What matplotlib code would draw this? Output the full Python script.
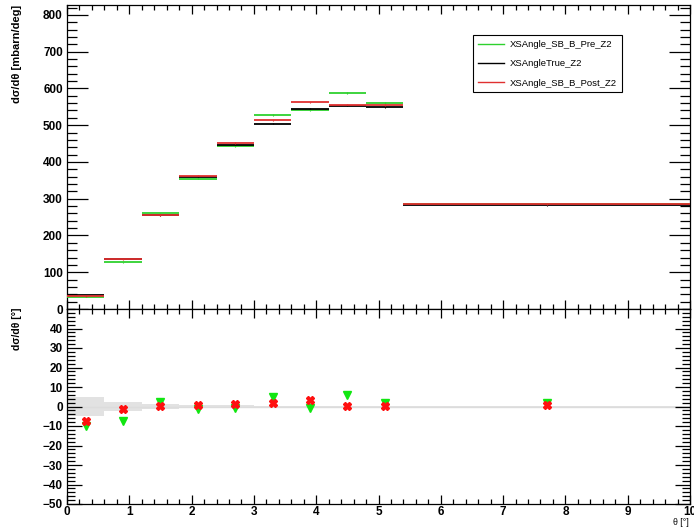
import numpy as np
import matplotlib
matplotlib.use("Agg")
import matplotlib.pyplot as plt
from matplotlib.ticker import MultipleLocator
from matplotlib.lines import Line2D

plt.rcParams['font.family'] = ['Liberation Sans', 'DejaVu Sans']

# Angular binning (deg)
bin_edges = [0.0, 0.6, 1.2, 1.8, 2.4, 3.0, 3.6, 4.2, 4.8, 5.4, 10.0]

# Differential cross sections (mbarn/deg)
xs_true = [37.0, 137.0, 255.0, 360.0, 447.0, 504.0, 545.0, 553.0, 550.0, 282.0]
xs_pre = [33.4, 126.5, 260.5, 355.0, 443.0, 528.0, 540.0, 587.0, 561.0, 287.0]
xs_post = [34.2, 135.0, 255.5, 363.0, 452.0, 513.0, 562.0, 556.0, 554.0, 284.5]
xs_err = [2.0, 3.0, 4.0, 5.0, 5.0, 5.0, 5.0, 5.0, 5.0, 2.0]

# Relative deviation from the true distribution (%)
pre_ratio = [-9.8, -7.5, 2.2, -1.4, -1.0, 4.8, -0.9, 6.1, 2.0, 1.9]
post_ratio = [-7.5, -1.5, 0.2, 0.9, 1.2, 1.7, 3.1, 0.5, 0.5, 0.9]
true_rel_err = [4.8, 2.4, 1.4, 1.0, 0.6, 0.45, 0.4, 0.35, 0.35, 0.3]

labels = ["XSAngle_SB_B_Pre_Z2", "XSAngleTrue_Z2", "XSAngle_SB_B_Post_Z2"]

GREEN_LINE = "#2ed12e"
GREEN_MARK = "#11e611"
RED_LINE = "#e03030"
RED_MARK = "#ff1010"
BLACK = "#000000"

edges = np.array(bin_edges)
lo, hi = edges[:-1], edges[1:]
centers = 0.5 * (lo + hi)

W, H = 694, 527
fig = plt.figure(figsize=(W / 100, H / 100), dpi=100)
ax1 = fig.add_axes([67 / W, 1 - 309 / H, 623 / W, 304 / H])
ax2 = fig.add_axes([67 / W, 1 - 504 / H, 623 / W, 195 / H])

# ---- upper pad: cross sections ----
for vals, col in ((xs_pre, GREEN_LINE), (xs_true, BLACK), (xs_post, RED_LINE)):
    v = np.array(vals)
    ax1.hlines(v, lo, hi, colors=col, lw=1.3, zorder=3)
    ax1.vlines(centers, v - np.array(xs_err) * 0.4, v + np.array(xs_err) * 0.4,
               colors=col, lw=0.8, zorder=3)

ax1.set_xlim(0, 10)
ax1.set_ylim(0, 827)
ax1.xaxis.set_major_locator(MultipleLocator(1))
ax1.xaxis.set_minor_locator(MultipleLocator(0.2))
ax1.yaxis.set_major_locator(MultipleLocator(100))
ax1.yaxis.set_minor_locator(MultipleLocator(20))
ax1.tick_params(which='both', direction='in', top=True, right=True,
                labelbottom=False, width=0.9)
ax1.tick_params(axis='y', which='major', length=15)
ax1.tick_params(axis='y', which='minor', length=7.5)
ax1.tick_params(axis='x', which='major', length=6.5)
ax1.tick_params(axis='x', which='minor', length=3.3)
ax1.tick_params(axis='y', pad=3)
for t in ax1.get_yticklabels():
    t.set_fontsize(8.5)
    t.set_fontweight('bold')

handles = [Line2D([], [], color=GREEN_LINE, lw=1.0),
           Line2D([], [], color=BLACK, lw=1.0),
           Line2D([], [], color=RED_LINE, lw=1.0)]
leg = ax1.legend(handles, labels, loc='upper left',
                 bbox_to_anchor=(0.6517, 0.901), fontsize=6.8,
                 frameon=True, fancybox=False, edgecolor='black',
                 framealpha=1, handlelength=2.75, handletextpad=0.65,
                 labelspacing=1.1, borderpad=0.5, borderaxespad=0)
leg.get_frame().set_linewidth(0.8)

# ---- lower pad: relative deviations ----
ax2.stairs(np.array(true_rel_err), edges, baseline=-np.array(true_rel_err),
           fill=True, color='#e2e2e2', zorder=1)
ax2.axhline(0, color='#dcdcdc', lw=1.0, zorder=1)
ax2.plot(centers, pre_ratio, 'v', color=GREEN_MARK, ms=6, mec=GREEN_MARK,
         zorder=4, ls='none')
ax2.plot(centers, post_ratio, 'X', color=RED_MARK, ms=6, mec=RED_MARK,
         zorder=5, ls='none')

ax2.set_xlim(0, 10)
ax2.set_ylim(-50, 50)
ax2.xaxis.set_major_locator(MultipleLocator(1))
ax2.xaxis.set_minor_locator(MultipleLocator(0.2))
ax2.yaxis.set_major_locator(MultipleLocator(10))
ax2.yaxis.set_minor_locator(MultipleLocator(2))
ax2.set_yticks(np.arange(-50, 41, 10))
ax2.tick_params(which='both', direction='in', top=True, right=True, width=0.9)
ax2.tick_params(axis='y', which='major', length=11)
ax2.tick_params(axis='y', which='minor', length=5.5)
ax2.tick_params(axis='x', which='major', length=6.5)
ax2.tick_params(axis='x', which='minor', length=3.3)
ax2.tick_params(axis='y', pad=3)
ax2.tick_params(axis='x', pad=1.5)
ax2.set_xticks(np.arange(0, 11, 1))
ax2.set_xticklabels([str(i) for i in range(11)])
for t in ax2.get_yticklabels() + ax2.get_xticklabels():
    t.set_fontsize(8.5)
    t.set_fontweight('bold')

for ax in (ax1, ax2):
    for s in ax.spines.values():
        s.set_linewidth(0.9)

fig.text(17 / W, 1 - 5 / H, "dσ/dθ [mbarn/deg]", rotation=90, ha='center',
         va='top', fontsize=8, fontweight='bold')
fig.text(17 / W, 1 - 308 / H, "dσ/dθ [°]", rotation=90, ha='center',
         va='top', fontsize=7.5, fontweight='bold')
fig.text(689 / W, 1 - 522.5 / H, "θ [°]", ha='right', va='center',
         fontsize=6.3)

fig.savefig("out.png", dpi=100)
